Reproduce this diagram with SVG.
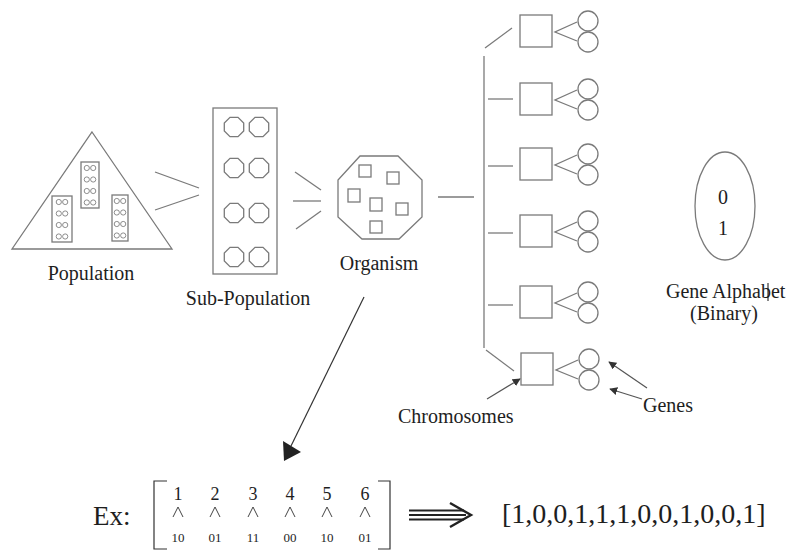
<svg xmlns="http://www.w3.org/2000/svg" xmlns:xlink="http://www.w3.org/1999/xlink" width="795" height="552" viewBox="0 0 795 552">
<style>
.ln{stroke:#7a7a7a;stroke-width:1.3;fill:none}
.sh{stroke:#7a7a7a;stroke-width:1.3;fill:#fff}
.dk{stroke:#333;stroke-width:1.2;fill:none}
.t{font-family:"Liberation Serif","Times New Roman",serif;fill:#1e1e1e}
.sm{stroke:#808080;stroke-width:0.9;fill:none}
.wg{stroke:#444;stroke-width:1;fill:none}
</style>
<defs>
<marker id="ah" viewBox="0 0 10 10" refX="9" refY="5" markerWidth="8" markerHeight="8" markerUnits="userSpaceOnUse" orient="auto">
<path d="M0,0 L10,5 L0,10 Z" fill="#333"/>
</marker>
<polygon id="oct" points="9.7,4 4,9.7 -4,9.7 -9.7,4 -9.7,-4 -4,-9.7 4,-9.7 9.7,-4" class="sh"/>
<g id="pair"><circle cx="-3.2" cy="0" r="2.6" class="sm"/><circle cx="3.2" cy="0" r="2.6" class="sm"/></g>
<path id="wedge" d="M-5,10 L0,0 L5,10" class="wg"/>
<g id="chromo">
<rect x="0" y="-16" width="32" height="32" class="sh"/>
<path d="M57,-9 L35,1 L57,10" class="ln"/>
<circle cx="68" cy="-10" r="10" class="sh"/>
<circle cx="68" cy="11" r="10" class="sh"/>
</g>
</defs>
<rect width="795" height="552" fill="#fff"/>

<g id="population">
<polygon points="92,132 172,249 12,249" class="ln"/>
<rect x="52" y="196" width="20" height="46" class="sh" stroke-width="1.6"/>
<use xlink:href="#pair" x="62" y="202"/><use xlink:href="#pair" x="62" y="213.5"/><use xlink:href="#pair" x="62" y="225"/><use xlink:href="#pair" x="62" y="236.5"/>
<rect x="81" y="162" width="18" height="46" class="sh" stroke-width="1.6"/>
<use xlink:href="#pair" x="90" y="168"/><use xlink:href="#pair" x="90" y="179.5"/><use xlink:href="#pair" x="90" y="191"/><use xlink:href="#pair" x="90" y="202.5"/>
<rect x="112" y="195" width="16" height="46" class="sh" stroke-width="1.6"/>
<use xlink:href="#pair" x="120" y="201"/><use xlink:href="#pair" x="120" y="212.5"/><use xlink:href="#pair" x="120" y="224"/><use xlink:href="#pair" x="120" y="235.5"/>
<text class="t" x="91" y="280" font-size="20" text-anchor="middle">Population</text>
</g>

<g id="sub-population">
<rect x="213" y="108" width="64" height="166" class="sh"/>
<use xlink:href="#oct" x="234" y="127"/><use xlink:href="#oct" x="259" y="127"/>
<use xlink:href="#oct" x="234" y="168"/><use xlink:href="#oct" x="259" y="168"/>
<use xlink:href="#oct" x="234" y="213"/><use xlink:href="#oct" x="259" y="213"/>
<use xlink:href="#oct" x="234" y="257"/><use xlink:href="#oct" x="259" y="257"/>
<text class="t" x="248" y="305" font-size="20" text-anchor="middle">Sub-Population</text>
</g>

<g id="organism">
<polygon points="360,156 398,156 422,180 422,217 399,239 362,239 338,217 338,180" class="sh"/>
<rect x="359" y="165" width="12" height="12" class="sh"/>
<rect x="387" y="172" width="12" height="12" class="sh"/>
<rect x="348" y="189" width="12" height="13" class="sh"/>
<rect x="370" y="198" width="12" height="13" class="sh"/>
<rect x="396" y="203" width="12" height="12" class="sh"/>
<rect x="370" y="221" width="12" height="12" class="sh"/>
<text class="t" x="379" y="270" font-size="20" text-anchor="middle">Organism</text>
</g>

<g id="chromosome-1"><use xlink:href="#chromo" x="520" y="31"/></g>
<g id="chromosome-2"><use xlink:href="#chromo" x="520" y="99"/></g>
<g id="chromosome-3"><use xlink:href="#chromo" x="520" y="164"/></g>
<g id="chromosome-4"><use xlink:href="#chromo" x="520" y="231"/></g>
<g id="chromosome-5"><use xlink:href="#chromo" x="520" y="302"/></g>
<g id="chromosome-6"><use xlink:href="#chromo" x="521" y="369"/></g>

<g id="gene-alphabet">
<ellipse cx="725" cy="206" rx="30" ry="54" class="sh"/>
<text class="t" x="723" y="204" font-size="20" text-anchor="middle">0</text>
<text class="t" x="723" y="235" font-size="20" text-anchor="middle">1</text>
<text class="t" x="666" y="298" font-size="20">Gene Alphabet</text>
<text class="t" x="724" y="320" font-size="20" text-anchor="middle">(Binary)</text>
<line x1="768" y1="283" x2="768" y2="301" stroke="#111" stroke-width="1"/>
</g>

<g id="labels">
<text class="t" x="398" y="423" font-size="20">Chromosomes</text>
<text class="t" x="643" y="412" font-size="20">Genes</text>
</g>

<g id="example">
<text class="t" x="93" y="525" font-size="27">Ex:</text>
<path d="M167,481 H154 V549 H167" class="dk"/>
<path d="M378,481 H390 V549 H378" class="dk"/>
<g font-size="18" text-anchor="middle" class="t">
<text x="178" y="500">1</text><text x="215" y="500">2</text><text x="253" y="500">3</text><text x="290" y="500">4</text><text x="327" y="500">5</text><text x="365" y="500">6</text>
</g>
<use xlink:href="#wedge" x="178" y="507"/><use xlink:href="#wedge" x="215" y="507"/><use xlink:href="#wedge" x="253" y="507"/><use xlink:href="#wedge" x="290" y="507"/><use xlink:href="#wedge" x="327" y="507"/><use xlink:href="#wedge" x="365" y="507"/>
<g font-size="13" text-anchor="middle" class="t">
<text x="178" y="542">10</text><text x="215" y="542">01</text><text x="253" y="542">11</text><text x="290" y="542">00</text><text x="327" y="542">10</text><text x="365" y="542">01</text>
</g>
<text class="t" x="502" y="523" font-size="28">[1,0,0,1,1,1,0,0,1,0,0,1]</text>
</g>

<g id="connectors">
<line x1="155" y1="172" x2="199" y2="188" class="ln"/>
<line x1="155" y1="210" x2="199" y2="195" class="ln"/>
<line x1="295" y1="172" x2="321" y2="190" class="ln"/>
<line x1="293" y1="201" x2="321" y2="201" class="ln"/>
<line x1="296" y1="229" x2="321" y2="211" class="ln"/>
<line x1="438" y1="197" x2="474" y2="197" class="ln"/>
<line x1="484" y1="56" x2="484" y2="348" class="ln"/>
<line x1="485" y1="48" x2="512" y2="28" class="ln"/>
<line x1="488" y1="99" x2="513" y2="99" class="ln"/>
<line x1="488" y1="166" x2="513" y2="166" class="ln"/>
<line x1="488" y1="233" x2="513" y2="233" class="ln"/>
<line x1="488" y1="305" x2="513" y2="305" class="ln"/>
<line x1="486" y1="350" x2="514" y2="371" class="ln"/>
<line x1="487" y1="399" x2="520" y2="379" stroke="#555" stroke-width="1.2" marker-end="url(#ah)"/>
<line x1="647" y1="388" x2="609" y2="362" stroke="#555" stroke-width="1.2" marker-end="url(#ah)"/>
<line x1="642" y1="399" x2="610" y2="389" stroke="#555" stroke-width="1.2" marker-end="url(#ah)"/>
<line x1="364" y1="297" x2="291" y2="446" stroke="#333" stroke-width="1.2"/>
<polygon points="283,441 301,452 284,461" fill="#222"/>
<g stroke="#222" stroke-width="2" fill="none">
<line x1="409" y1="510.5" x2="464" y2="510.5"/>
<line x1="409" y1="515" x2="466" y2="515"/>
<line x1="409" y1="519.5" x2="464" y2="519.5"/>
<path d="M450,503 L471,515 L450,527" stroke-width="2.4"/>
</g>
</g>
</svg>
